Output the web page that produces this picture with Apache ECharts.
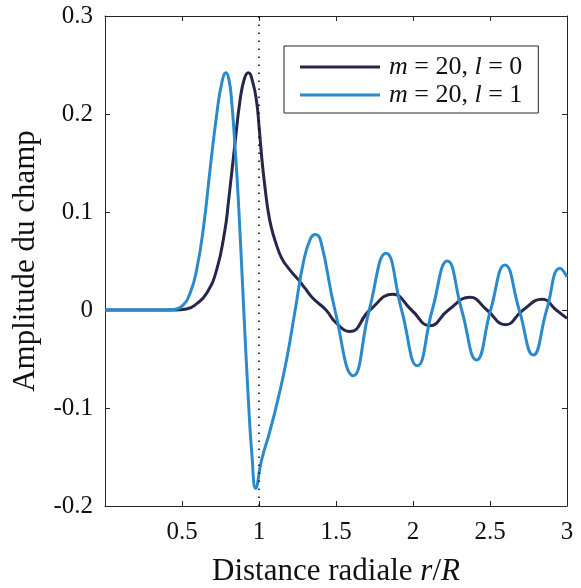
<!DOCTYPE html>
<html>
<head>
<meta charset="utf-8">
<script src="https://cdn.jsdelivr.net/npm/echarts@6/dist/echarts.min.js"></script>
<style>
  html, body { margin: 0; padding: 0; background: #ffffff; }
  #chart { width: 581px; height: 588px; }
</style>
</head>
<body>
<div id="chart"></div>
<script>
// Radial field profiles of two whispering-gallery modes (m = 20)
const seriesNames = ['m = 20, l = 0', 'm = 20, l = 1'];

// Mode l = 0: radial distance r/R and field amplitude
const radiusL0 = [0, 0.45, 0.53, 0.60, 0.66, 0.725, 0.779, 0.80, 0.844, 0.877, 0.905, 0.931, 0.96, 0.985, 1.0, 1.02, 1.039, 1.06, 1.082, 1.104, 1.147, 1.2, 1.255, 1.3, 1.35, 1.435, 1.5, 1.59, 1.72, 1.87, 1.99, 2.11, 2.23, 2.37, 2.48, 2.6, 2.715, 2.84, 2.93, 3.0];
const ampL0 = [0, 0, 0.001, 0.007, 0.017, 0.041, 0.082, 0.108, 0.170, 0.214, 0.236, 0.242, 0.232, 0.212, 0.188, 0.152, 0.125, 0.100, 0.083, 0.071, 0.053, 0.041, 0.031, 0.022, 0.012, 0, -0.013, -0.022, 0, 0.016, 0, -0.016, 0, 0.013, 0, -0.015, 0, 0.011, 0, -0.0085];

// Mode l = 1
const radiusL1 = [0, 0.40, 0.44, 0.50, 0.552, 0.595, 0.64, 0.682, 0.725, 0.76, 0.786, 0.805, 0.822, 0.845, 0.866, 0.898, 0.931, 0.955, 0.978, 1.017, 1.07, 1.125, 1.18, 1.235, 1.29, 1.335, 1.366, 1.40, 1.493, 1.612, 1.716, 1.825, 1.926, 2.028, 2.125, 2.223, 2.316, 2.413, 2.504, 2.597, 2.69, 2.781, 2.868, 2.955, 3.0];
const ampL1 = [0, 0, 0.0005, 0.004, 0.017, 0.041, 0.085, 0.143, 0.199, 0.233, 0.242, 0.235, 0.214, 0.165, 0.112, 0.010, -0.092, -0.150, -0.182, -0.153, -0.124, -0.090, -0.050, 0, 0.050, 0.073, 0.077, 0.071, 0, -0.067, 0, 0.058, 0, -0.057, 0, 0.050, 0, -0.051, 0, 0.046, 0, -0.046, 0, 0.0425, 0.034];

// Resonator edge r = R
const edgeRadius = 1;

// Axis ticks
const xTicks = [0, 0.5, 1, 1.5, 2, 2.5, 3];
const yTicks = [-0.2, -0.1, 0, 0.1, 0.2, 0.3];

const colors = ['#25284a', '#2b8acb'];
const serif = '"Liberation Serif", "DejaVu Serif", serif';
const frame = '#262626';
const ink = '#111111';

const pairs = (xs, ys) => xs.map((x, i) => [x, ys[i]]);

// "m = 20, l = 0" with italic m and l
const legendText = name => {
  const parts = name.split(', ');
  return parts[0].replace('m', '{i|m}') + ', ' + parts[1].replace('l', '{i|l}');
};

const tickLabel = (v) => {
  const t = xTicks.find(x => Math.abs(x - v) < 1e-9);
  if (t === undefined || t === 0) return '';
  return String(t);
};
const yLabel = (v) => {
  const t = yTicks.find(y => Math.abs(y - v) < 1e-9);
  if (t === undefined) return '';
  return t === 0 ? '0' : t.toFixed(1);
};

const boxAxis = {
  axisLine: { show: true, onZero: false, lineStyle: { color: frame, width: 1 } },
  axisTick: { show: true, inside: true, length: 5, lineStyle: { color: frame } },
  splitLine: { show: false }
};

const chart = echarts.init(document.getElementById('chart'), null, { renderer: 'canvas' });

const option = {
  animation: false,
  backgroundColor: '#ffffff',
  color: colors,
  grid: { left: 105, right: 14, top: 16, bottom: 82, containLabel: false, outerBoundsMode: 'none' },
  legend: {
    orient: 'vertical',
    left: 284,
    top: 46,
    padding: [7, 16, 4, 16],
    itemGap: 0,
    itemWidth: 80,
    itemHeight: 3,
    icon: 'rect',
    borderColor: frame,
    borderWidth: 1,
    borderRadius: 0,
    backgroundColor: '#ffffff',
    data: seriesNames,
    formatter: legendText,
    textStyle: {
      fontFamily: serif,
      fontSize: 26,
      lineHeight: 28,
      color: ink,
      padding: [0, 0, 0, 4],
      rich: {
        i: { fontFamily: serif, fontSize: 26, lineHeight: 28, fontStyle: 'italic', color: ink }
      }
    }
  },
  xAxis: [
    Object.assign({
      type: 'value',
      min: 0, max: 3, interval: 0.5,
      position: 'bottom',
      name: 'Distance radiale {i|r}/{i|R}',
      nameLocation: 'middle',
      nameGap: 50,
      nameTextStyle: {
        fontFamily: serif, fontSize: 31, color: ink,
        rich: { i: { fontFamily: serif, fontSize: 31, fontStyle: 'italic', color: ink } }
      },
      axisLabel: { formatter: tickLabel, fontFamily: serif, fontSize: 25, color: ink, margin: 14 }
    }, boxAxis),
    Object.assign({
      type: 'value',
      min: 0, max: 3, interval: 0.5,
      position: 'top',
      axisLabel: { show: false }
    }, boxAxis)
  ],
  yAxis: [
    Object.assign({
      type: 'value',
      min: -0.2, max: 0.3, interval: 0.1,
      position: 'left',
      name: 'Amplitude du champ',
      nameLocation: 'middle',
      nameGap: 64,
      nameRotate: 90,
      nameTextStyle: { fontFamily: serif, fontSize: 31, color: ink },
      axisLabel: { formatter: yLabel, fontFamily: serif, fontSize: 25, color: ink, margin: 12 }
    }, boxAxis),
    Object.assign({
      type: 'value',
      min: -0.2, max: 0.3, interval: 0.1,
      position: 'right',
      axisLabel: { show: false }
    }, boxAxis)
  ],
  series: [
    {
      name: seriesNames[0],
      type: 'line',
      data: pairs(radiusL0, ampL0),
      smooth: 0.5,
      showSymbol: false,
      symbol: 'none',
      lineStyle: { width: 3, color: colors[0] },
      z: 2
    },
    {
      name: seriesNames[1],
      type: 'line',
      data: pairs(radiusL1, ampL1),
      smooth: 0.5,
      showSymbol: false,
      symbol: 'none',
      lineStyle: { width: 3, color: colors[1] },
      z: 3,
      markLine: {
        silent: true,
        symbol: ['none', 'none'],
        label: { show: false },
        lineStyle: { color: '#000000', width: 1.5, type: [1.5, 6.5] },
        data: [{ xAxis: edgeRadius }],
        z: 4
      }
    }
  ]
};

chart.setOption(option);
</script>
</body>
</html>
